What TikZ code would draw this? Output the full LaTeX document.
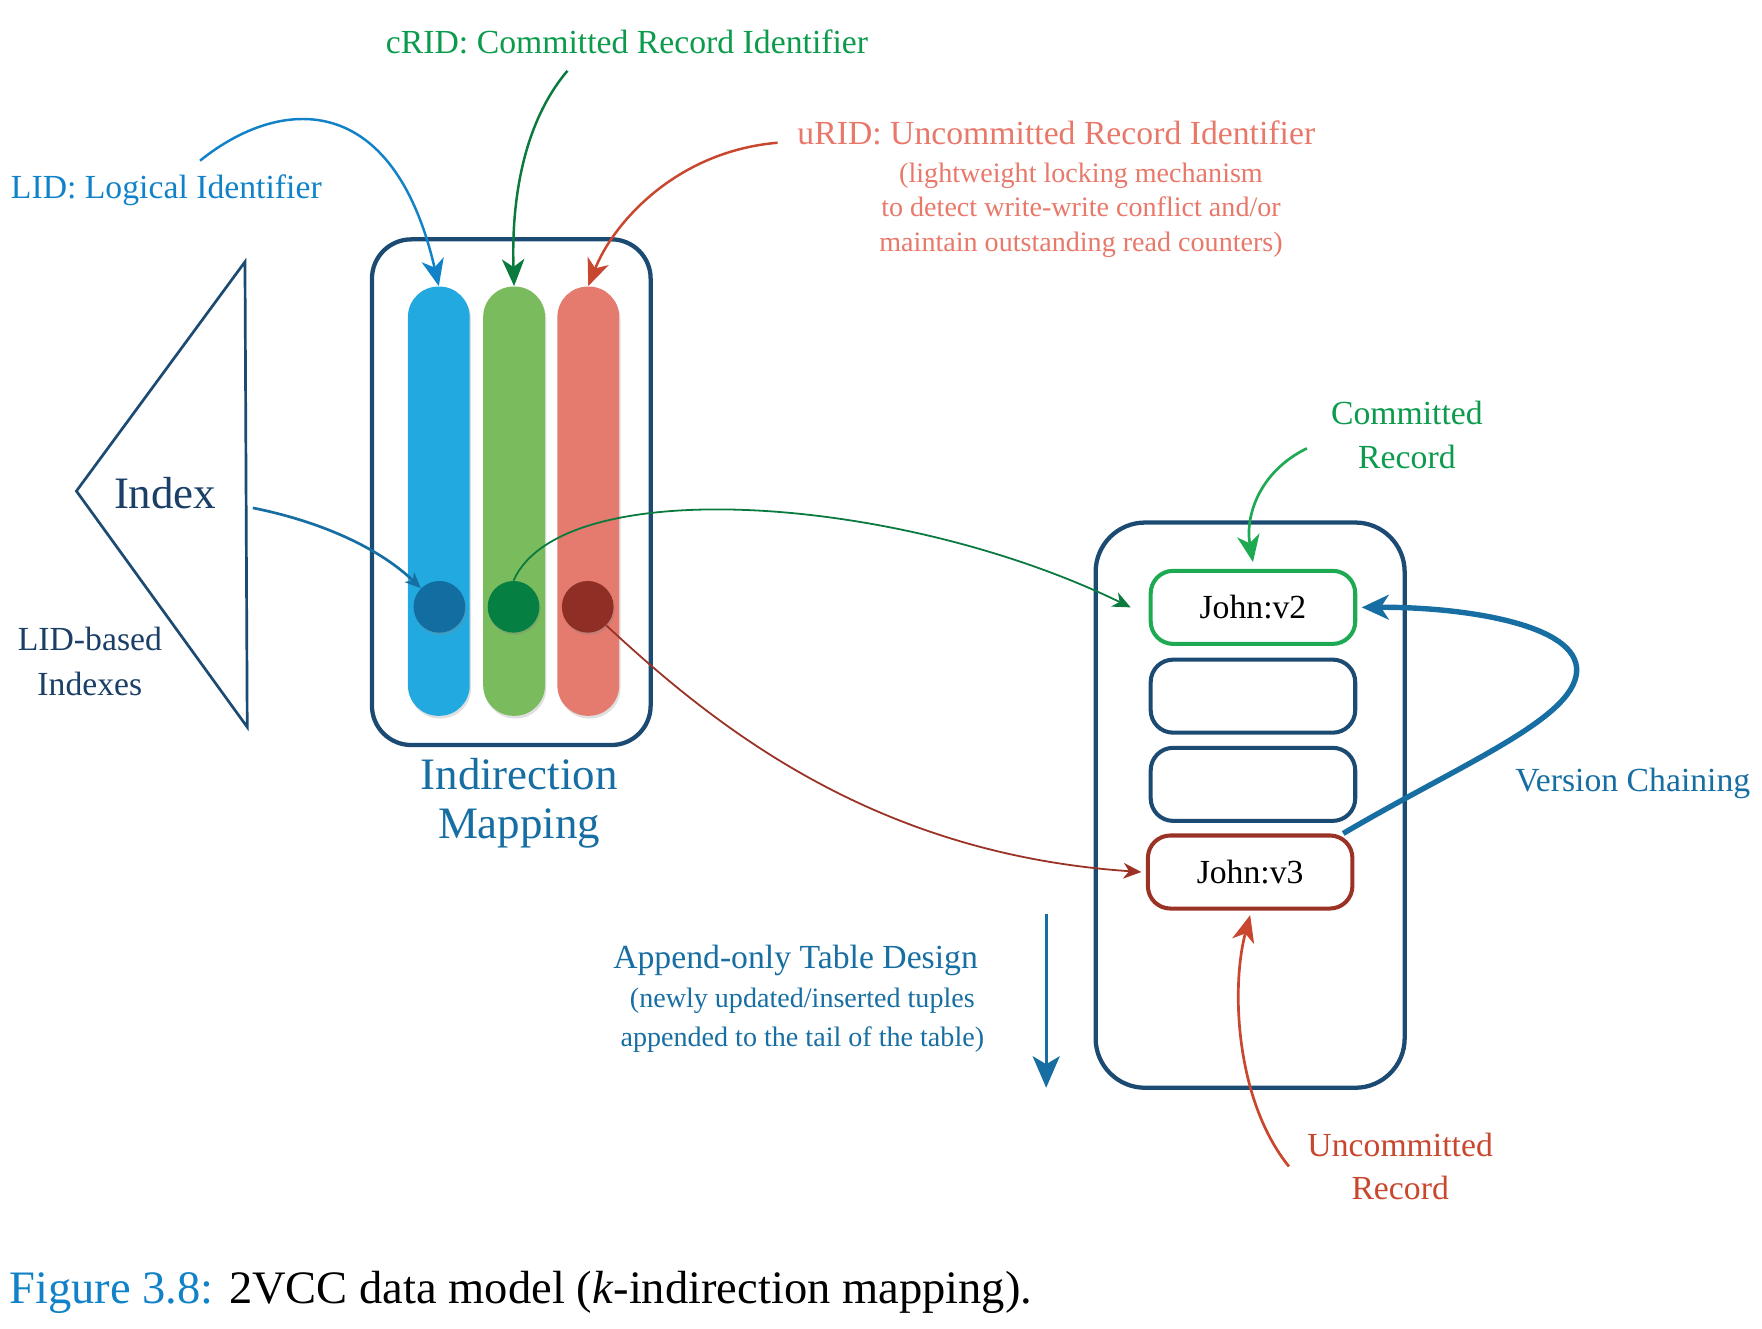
\documentclass[tikz,border=0pt]{standalone}
\usepackage{fontspec}
\setmainfont{Liberation Serif}
\usetikzlibrary{arrows.meta,shadows}
\definecolor{navy}{HTML}{1B4A72}
\definecolor{lidblue}{HTML}{1282C8}
\definecolor{midblue}{HTML}{176EA2}
\definecolor{cgreen}{HTML}{0C9A4C}
\definecolor{cgreendk}{HTML}{0A7A3E}
\definecolor{usalmon}{HTML}{E8786A}
\definecolor{ured}{HTML}{C8472E}
\definecolor{colB}{HTML}{22AAE0}
\definecolor{colG}{HTML}{7ABB5E}
\definecolor{colR}{HTML}{E47B6E}
\definecolor{dotB}{HTML}{126EA0}
\definecolor{dotG}{HTML}{068042}
\definecolor{dotR}{HTML}{8E2E24}
\definecolor{recgreen}{HTML}{1DAA52}
\definecolor{recred}{HTML}{9A3326}
\definecolor{idxnavy}{HTML}{1B3F66}
\tikzset{
  lbl/.style={inner sep=0pt, font=\fontsize{15}{19}\selectfont},
  biglbl/.style={inner sep=0pt, font=\fontsize{20}{22}\selectfont, align=center},
  sublbl/.style={inner sep=0pt, font=\fontsize{12.5}{15.5}\selectfont, align=center},
  column/.style={rectangle, rounded corners=13.5pt, minimum width=27.5pt, minimum height=191pt, inner sep=0pt,
    drop shadow={shadow xshift=0.6pt, shadow yshift=-1.2pt, opacity=0.25}},
  dot/.style={circle, minimum size=23pt, inner sep=0pt,
    drop shadow={shadow xshift=0.5pt, shadow yshift=-1pt, opacity=0.3}},
  record/.style={rectangle, rounded corners=10pt, minimum width=91pt, minimum height=32.5pt, inner sep=0pt,
    line width=1.8pt, font=\fontsize{15}{18}\selectfont},
  bigbox/.style={rectangle, draw=navy, line width=1.9pt, inner sep=0pt},
  tip/.style={-{Stealth[length=12pt,width=10pt,inset=3.5pt]}},
}
\begin{document}
\begin{tikzpicture}[x=0.5pt,y=-0.5pt]
\useasboundingbox (0,0) rectangle (1568,1182);

% ---------- Index triangle ----------
\draw[navy, line width=1.2pt, line join=miter] (218,233) -- (68,437) -- (220,647) -- cycle;
\node[biglbl, text=idxnavy] (index) at (147,439) {Index};
\node[lbl, text=idxnavy, align=center, font=\fontsize{15}{20}\selectfont] (lidbased) at (80,589) {LID-based\\Indexes};

% ---------- Indirection mapping ----------
\node[bigbox, rounded corners=17.5pt, minimum width=124pt, minimum height=225pt] (map) at (455,438) {};
\node[column, fill=colB] (colb) at (390.5,446) {};
\node[column, fill=colG] (colg) at (457.5,446) {};
\node[column, fill=colR] (colr) at (523.5,446) {};
\node[dot, fill=dotB] (dotb) at (391,540) {};
\node[dot, fill=dotG] (dotg) at (457,540) {};
\node[dot, fill=dotR] (dotr) at (523,540) {};
\node[biglbl, text=midblue] (maplbl) at (462,715) {Indirection\\Mapping};

% ---------- Top labels ----------
\node[lbl, text=lidblue] (lid) at (148,169) {LID: Logical Identifier};
\node[lbl, text=cgreen] (crid) at (558,37) {cRID: Committed Record Identifier};
\node[lbl, text=usalmon] (urid) at (940,118) {uRID: Uncommitted Record Identifier};
\node[sublbl, text=usalmon] (uridsub) at (962,187) {(lightweight locking mechanism\\to detect write-write conflict and/or\\maintain outstanding read counters)};

\coordinate (lidS) at (178,143);
\coordinate (cridS) at (505,63);
\coordinate (uridS) at (692,127);
\draw[lidblue, line width=1.1pt, tip] (lidS) .. controls (250,85) and (350,80) .. (colb.north);
\draw[cgreendk, line width=1.1pt, tip] (cridS) .. controls (465,110) and (455,180) .. (colg.north);
\draw[ured, line width=1.1pt, tip] (uridS) .. controls (600,135) and (545,200) .. (colr.north);

% Index -> blue dot
\coordinate (idxS) at (225,452);
\draw[midblue, line width=1.2pt, -{Stealth[length=7pt,width=6pt,inset=2pt]}] (idxS) .. controls (290,465) and (340,490) .. (dotb.north west);

% ---------- Table ----------
\node[bigbox, rounded corners=22pt, minimum width=137.5pt, minimum height=251.5pt] (table) at (1112.5,716.5) {};
\node[record, draw=recgreen] (v2) at (1115,540.5) {John:v2};
\node[record, draw=navy] (e1) at (1115,619.5) {};
\node[record, draw=navy] (e2) at (1115,698) {};
\node[record, draw=recred] (v3) at (1112.5,776) {John:v3};

% green dot -> John:v2
\draw[cgreendk, line width=0.8pt, -{Stealth[length=8pt,width=7pt,inset=2.5pt]}] (dotg.north) .. controls (500,420) and (800,440) .. ([xshift=-8pt]v2.west);
% red dot -> John:v3
\draw[recred, line width=0.8pt, -{Stealth[length=8pt,width=7pt,inset=2.5pt]}] (dotr.south east) .. controls (640,650) and (780,760) .. ([xshift=-2pt]v3.west);

% Committed record
\node[lbl, text=cgreen, align=center, font=\fontsize{15}{19.5}\selectfont] (comm) at (1252,387) {Committed\\Record};
\coordinate (commS) at (1163,399);
\draw[recgreen, line width=1.2pt, tip] (commS) .. controls (1120,420) and (1108,460) .. ([yshift=3pt]v2.north);

% Version chaining
\draw[midblue, line width=2.4pt, -{Stealth[length=12pt,width=11pt,inset=3.5pt]}]
  ([xshift=-5pt]v3.north east) .. controls (1300,680) and (1400,640) .. (1403,598)
  .. controls (1406,555) and (1300,540) .. ([xshift=2pt]v2.east);
\node[lbl, text=midblue] (vc) at (1453,697) {Version Chaining};

% Uncommitted record
\node[lbl, text=ured, align=center, font=\fontsize{15}{19.5}\selectfont] (uncomm) at (1246,1038) {Uncommitted\\Record};
\coordinate (uncS) at (1147,1038);
\draw[ured, line width=1.2pt, tip] (uncS) .. controls (1100,980) and (1095,880) .. ([yshift=-2pt]v3.south);

% Append-only
\coordinate (appS) at (931,813);
\coordinate (appE) at (931,968);
\draw[midblue, line width=1.4pt, -{Stealth[length=14pt,width=12pt,inset=3.5pt]}] (appS) -- (appE);
\node[lbl, text=midblue] (app) at (708,855) {Append-only Table Design};
\node[sublbl, text=midblue, font=\fontsize{12.5}{17.5}\selectfont] (appsub) at (714,908) {(newly updated/inserted tuples\\appended to the tail of the table)};

% ---------- Caption ----------
\node[inner sep=0pt, anchor=west, font=\fontsize{20.7}{24}\selectfont] (cap) at (8,1150)
  {\textcolor{lidblue}{Figure 3.8:} 2VCC data model (\textit{k}-indirection mapping).};
\end{tikzpicture}
\end{document}
